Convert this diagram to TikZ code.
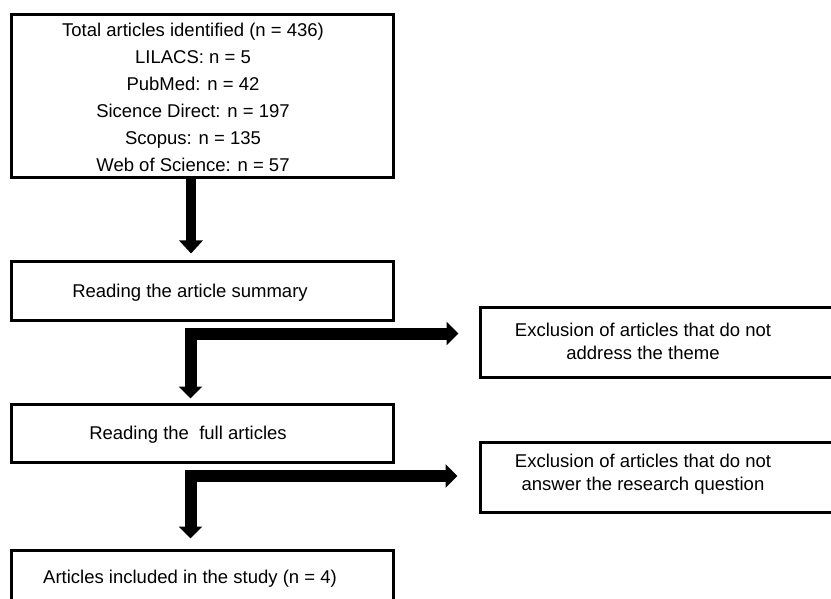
\documentclass[tikz,border=0pt]{standalone}
\usepackage{fontspec}
\setmainfont{Liberation Sans}
\usetikzlibrary{arrows.meta,calc}
\begin{document}
\begin{tikzpicture}[x=1pt,y=-1pt,
  box/.style={draw, line width=3pt, rectangle, inner sep=0pt},
  txt/.style={font=\fontsize{18.5}{27}\selectfont, align=center, inner sep=0pt},
  etxt/.style={font=\fontsize{18.5}{23}\selectfont, align=center, inner sep=0pt},
  fat/.style={line width=10.5pt, line join=miter, -{Triangle[width=23pt,length=13pt]}},
  fattwo/.style={line width=12pt, line join=miter, {Triangle[width=23pt,length=12pt]}-{Triangle[width=23pt,length=12pt]}}]
\useasboundingbox (0,0) rectangle (831,599);
\clip (0,0) rectangle (831,599);
% main column boxes
\node[box, minimum width=382pt, minimum height=163pt] (b1) at (202,96.5) {};
\node[txt] (t1) at (193,97.5) {Total articles identified (n = 436)\\LILACS: n = 5\\PubMed: n = 42\\Sicence Direct: n = 197\\Scopus: n = 135\\Web of Science: n = 57};
\node[box, minimum width=382pt, minimum height=58pt] (b2) at (202,291) {};
\node[txt] (t2) at (190,293) {Reading the article summary};
\node[box, minimum width=382pt, minimum height=58pt] (b3) at (202,433) {};
\node[txt] (t3) at (188,435) {Reading the\ \ full articles};
\node[box, minimum width=382pt, minimum height=80pt] (b4) at (202,590) {};
\node[txt] (t4) at (190,579) {Articles included in the study (n = 4)};
% exclusion boxes
\node[box, minimum width=370pt, minimum height=70pt] (e1) at (665,342) {};
\node[etxt] (s1) at (643,341) {Exclusion of articles that do not\\address the theme};
\node[box, minimum width=370pt, minimum height=70pt] (e2) at (665,477) {};
\node[etxt] (s2) at (643,474) {Exclusion of articles that do not\\answer the research question};
% connectors
\coordinate (ax) at (191,0);
\coordinate (k1) at (190.5,333.5);
\coordinate (k2) at (190.5,476);
\draw[fat] (b1.south -| ax) -- ([yshift=7pt]b2.north -| ax);
\draw[fattwo] ([xshift=-20pt]e1.west |- k1) -- (k1) -- ([yshift=4pt]b3.north -| k1);
\draw[fattwo] ([xshift=-21pt]e2.west |- k2) -- (k2) -- ([yshift=10pt]b4.north -| k2);
\end{tikzpicture}
\end{document}
